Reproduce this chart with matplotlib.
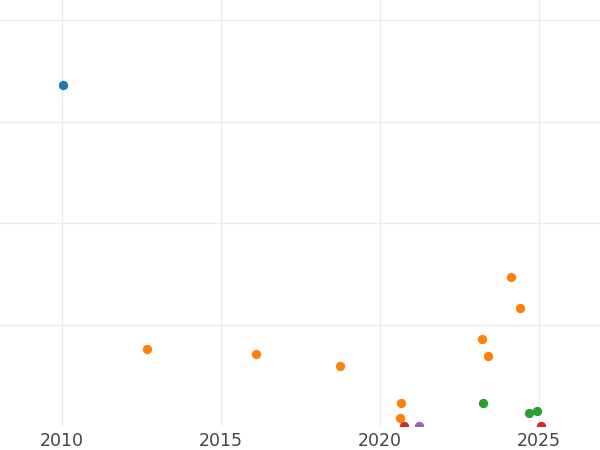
import matplotlib.pyplot as plt


# 各组散点数据（年份, 数值）
BLUE_YEARS = [2010.04]
BLUE_VALUES = [3.36]

ORANGE_YEARS = [2012.68, 2016.11, 2018.75, 2020.66, 2020.63, 2023.20, 2023.39, 2024.12, 2024.40]
ORANGE_VALUES = [0.76, 0.71, 0.59, 0.23, 0.08, 0.86, 0.69, 1.47, 1.16]

GREEN_YEARS = [2023.23, 2024.68, 2024.94]
GREEN_VALUES = [0.23, 0.13, 0.15]

RED_YEARS = [2020.75, 2025.07]
RED_VALUES = [0.0, 0.0]

PURPLE_YEARS = [2021.22]
PURPLE_VALUES = [0.0]

X_TICKS = [2010, 2015, 2020, 2025]
Y_TICKS = [1, 2, 3, 4]

SERIES = [
    (BLUE_YEARS, BLUE_VALUES, "#1f77b4"),
    (ORANGE_YEARS, ORANGE_VALUES, "#ff7f0e"),
    (GREEN_YEARS, GREEN_VALUES, "#2ca02c"),
    (RED_YEARS, RED_VALUES, "#d62728"),
    (PURPLE_YEARS, PURPLE_VALUES, "#9467bd"),
]


def plot_scatter():
    """
    绘制散点图，去掉边框和纵轴标签。
    """
    fig = plt.figure(figsize=(6, 4.5), dpi=100)
    ax = fig.add_axes([0, 24 / 450, 1, 426 / 450])

    for years, values, color in SERIES:
        ax.scatter(years, values, s=45, color=color, linewidths=0, zorder=3)

    ax.set_xlim(2008.06, 2026.92)
    ax.set_ylim(0, 4.2)
    ax.set_xticks(X_TICKS)
    ax.set_yticks(Y_TICKS)
    ax.set_yticklabels([])

    ax.grid(True, color="#ebebeb", linewidth=1.0)
    ax.set_axisbelow(True)
    ax.tick_params(length=0, labelsize=12.5, labelcolor="#444444", pad=4.5)
    for spine in ax.spines.values():
        spine.set_visible(False)

    fig.savefig("out.png", dpi=100)
    plt.close(fig)


def main():
    plot_scatter()


if __name__ == "__main__":
    main()
